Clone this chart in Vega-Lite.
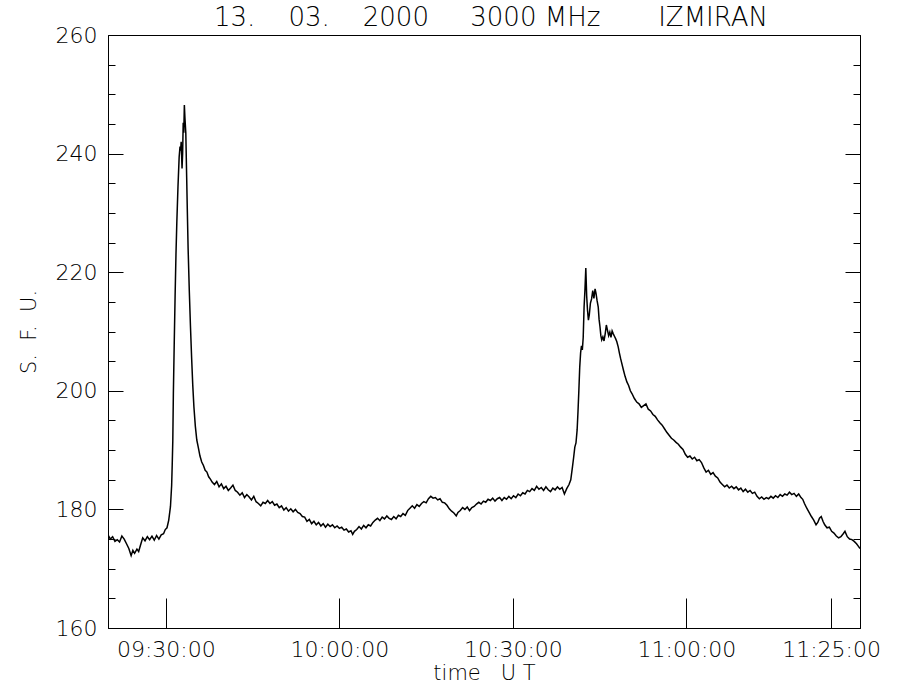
{
  "$schema": "https://vega.github.io/schema/vega-lite/v6.json",
  "width": 752,
  "height": 593,
  "autosize": "none",
  "padding": {"left": 108, "top": 35, "right": 40, "bottom": 72},
  "background": "white",
  "config": {
    "view": {"stroke": "black", "strokeWidth": 1},
    "font": "DejaVu Sans",
    "axis": {"domainColor": "black", "tickColor": "black", "labelColor": "black", "titleColor": "black", "grid": false, "labelFont": "DejaVu Sans", "titleFont": "DejaVu Sans", "labelFontWeight": 200, "titleFontWeight": 200}
  },
  "title": {"text": "13.\u00a0\u00a0\u00a0\u00a003.\u00a0\u00a0\u00a0\u00a02000\u00a0\u00a0\u00a0\u00a0\u00a03000\u00a0MHz\u00a0\u00a0\u00a0\u00a0\u00a0\u00a0\u00a0IZMIRAN", "fontSize": 26, "fontWeight": 200, "font": "DejaVu Sans", "color": "black", "offset": 9, "dy": 16, "dx": 7},
  "datasets": {
    "flux": [
      {"t":0,"v":175.7},{"t":0.4,"v":175.0},{"t":0.8,"v":175.4},{"t":1.2,"v":174.6},{"t":1.6,"v":174.9},{"t":2.0,"v":174.5},{"t":2.4,"v":175.5},{"t":2.8,"v":175.0},{"t":3.2,"v":174.2},{"t":3.6,"v":173.4},{"t":4.0,"v":172.2},{"t":4.3,"v":173.1},{"t":4.6,"v":172.6},{"t":5.0,"v":173.3},{"t":5.3,"v":172.9},{"t":5.6,"v":173.9},{"t":6.0,"v":175.2},{"t":6.4,"v":174.7},{"t":6.8,"v":175.4},{"t":7.2,"v":174.9},{"t":7.6,"v":175.5},{"t":8.0,"v":174.8},{"t":8.4,"v":175.6},{"t":8.8,"v":175.0},{"t":9.2,"v":175.7},{"t":9.6,"v":175.9},{"t":9.9,"v":176.6},{"t":10.2,"v":176.9},{"t":10.5,"v":178.2},{"t":10.8,"v":180.5},{"t":11.0,"v":184.0},{"t":11.1,"v":187.5},{"t":11.2,"v":191.5},{"t":11.3,"v":199.5},{"t":11.45,"v":208},{"t":11.6,"v":216},{"t":11.75,"v":223},{"t":11.9,"v":228.5},{"t":12.1,"v":234.5},{"t":12.3,"v":239.4},{"t":12.45,"v":241.2},{"t":12.55,"v":240.5},{"t":12.65,"v":242.0},{"t":12.8,"v":237.5},{"t":12.9,"v":240},{"t":13.0,"v":245.2},{"t":13.1,"v":243.5},{"t":13.2,"v":248.2},{"t":13.3,"v":246},{"t":13.45,"v":243.5},{"t":13.6,"v":236},{"t":13.7,"v":231},{"t":13.85,"v":224},{"t":14.05,"v":217},{"t":14.25,"v":211},{"t":14.45,"v":205.7},{"t":14.65,"v":201},{"t":14.85,"v":197.3},{"t":15.1,"v":194.0},{"t":15.35,"v":191.7},{"t":15.6,"v":190.5},{"t":15.9,"v":189.0},{"t":16.2,"v":188.0},{"t":16.5,"v":187.4},{"t":16.8,"v":186.6},{"t":17.1,"v":186.3},{"t":17.4,"v":185.5},{"t":17.7,"v":185.1},{"t":18.0,"v":184.6},{"t":18.4,"v":184.2},{"t":18.8,"v":184.7},{"t":19.2,"v":183.8},{"t":19.6,"v":184.3},{"t":20.0,"v":183.5},{"t":20.4,"v":183.9},{"t":20.8,"v":183.2},{"t":21.2,"v":183.6},{"t":21.6,"v":184.1},{"t":22.0,"v":183.2},{"t":22.4,"v":182.9},{"t":22.8,"v":182.4},{"t":23.2,"v":182.8},{"t":23.6,"v":182.0},{"t":24.0,"v":182.5},{"t":24.4,"v":182.1},{"t":24.8,"v":181.6},{"t":25.2,"v":182.2},{"t":25.6,"v":181.3},{"t":26.0,"v":181.0},{"t":26.4,"v":180.6},{"t":26.8,"v":181.2},{"t":27.2,"v":181.0},{"t":27.6,"v":181.5},{"t":28.0,"v":181.0},{"t":28.4,"v":181.3},{"t":28.8,"v":180.7},{"t":29.2,"v":180.9},{"t":29.6,"v":180.3},{"t":30.0,"v":180.6},{"t":30.4,"v":179.9},{"t":30.8,"v":180.3},{"t":31.2,"v":179.7},{"t":31.6,"v":180.1},{"t":32.0,"v":179.6},{"t":32.4,"v":180.0},{"t":32.8,"v":179.5},{"t":33.2,"v":179.3},{"t":33.6,"v":178.8},{"t":34.0,"v":178.7},{"t":34.4,"v":178.0},{"t":34.8,"v":178.3},{"t":35.2,"v":177.6},{"t":35.6,"v":178.0},{"t":36.0,"v":177.4},{"t":36.4,"v":177.8},{"t":36.8,"v":177.2},{"t":37.2,"v":177.6},{"t":37.6,"v":177.0},{"t":38.0,"v":177.5},{"t":38.4,"v":177.1},{"t":38.8,"v":177.4},{"t":39.2,"v":176.9},{"t":39.6,"v":177.2},{"t":40.0,"v":176.8},{"t":40.4,"v":177.0},{"t":40.8,"v":176.5},{"t":41.2,"v":176.7},{"t":41.6,"v":176.2},{"t":42.0,"v":176.4},{"t":42.3,"v":175.8},{"t":42.6,"v":176.3},{"t":43.0,"v":176.6},{"t":43.4,"v":177.1},{"t":43.8,"v":176.7},{"t":44.2,"v":177.3},{"t":44.6,"v":176.9},{"t":45.0,"v":177.4},{"t":45.4,"v":177.2},{"t":45.8,"v":177.8},{"t":46.2,"v":178.2},{"t":46.6,"v":178.5},{"t":47.0,"v":178.1},{"t":47.4,"v":178.7},{"t":47.8,"v":178.4},{"t":48.2,"v":178.9},{"t":48.6,"v":178.5},{"t":49.0,"v":178.3},{"t":49.4,"v":178.8},{"t":49.8,"v":178.4},{"t":50.2,"v":179.0},{"t":50.6,"v":178.8},{"t":51.0,"v":179.3},{"t":51.4,"v":179.0},{"t":51.8,"v":179.8},{"t":52.2,"v":180.2},{"t":52.6,"v":180.6},{"t":53.0,"v":180.2},{"t":53.4,"v":180.8},{"t":53.8,"v":180.5},{"t":54.2,"v":181.0},{"t":54.6,"v":181.3},{"t":55.0,"v":181.1},{"t":55.4,"v":181.8},{"t":55.8,"v":182.2},{"t":56.2,"v":181.9},{"t":56.6,"v":182.0},{"t":57.0,"v":181.6},{"t":57.4,"v":181.8},{"t":57.8,"v":181.2},{"t":58.2,"v":181.1},{"t":58.6,"v":180.7},{"t":59.0,"v":180.1},{"t":59.4,"v":179.7},{"t":59.8,"v":179.4},{"t":60.2,"v":178.9},{"t":60.5,"v":179.5},{"t":60.9,"v":179.8},{"t":61.3,"v":180.3},{"t":61.7,"v":180.0},{"t":62.1,"v":180.4},{"t":62.5,"v":179.8},{"t":62.9,"v":180.3},{"t":63.3,"v":180.5},{"t":63.7,"v":180.9},{"t":64.1,"v":181.2},{"t":64.5,"v":180.9},{"t":64.9,"v":181.4},{"t":65.3,"v":181.2},{"t":65.7,"v":181.7},{"t":66.1,"v":181.5},{"t":66.5,"v":181.9},{"t":66.9,"v":181.4},{"t":67.3,"v":181.8},{"t":67.7,"v":182.0},{"t":68.1,"v":181.5},{"t":68.5,"v":182.0},{"t":68.9,"v":181.7},{"t":69.3,"v":182.2},{"t":69.7,"v":181.8},{"t":70.1,"v":182.3},{"t":70.5,"v":182.0},{"t":70.9,"v":182.6},{"t":71.3,"v":182.3},{"t":71.7,"v":182.8},{"t":72.1,"v":182.6},{"t":72.5,"v":183.2},{"t":72.9,"v":183.0},{"t":73.3,"v":183.5},{"t":73.7,"v":183.2},{"t":74.1,"v":183.9},{"t":74.5,"v":183.4},{"t":74.9,"v":183.7},{"t":75.3,"v":183.2},{"t":75.7,"v":183.8},{"t":76.1,"v":183.3},{"t":76.5,"v":183.0},{"t":76.9,"v":183.6},{"t":77.3,"v":183.3},{"t":77.7,"v":183.8},{"t":78.1,"v":183.4},{"t":78.5,"v":183.7},{"t":78.9,"v":182.6},{"t":79.3,"v":183.5},{"t":79.7,"v":184.2},{"t":80.0,"v":185.0},{"t":80.3,"v":187.2},{"t":80.5,"v":188.8},{"t":80.7,"v":190.5},{"t":80.9,"v":191.2},{"t":81.1,"v":193.4},{"t":81.25,"v":196.5},{"t":81.4,"v":200.1},{"t":81.55,"v":204},{"t":81.7,"v":206.4},{"t":81.85,"v":207.6},{"t":82.0,"v":206.9},{"t":82.15,"v":209},{"t":82.3,"v":214.1},{"t":82.45,"v":217},{"t":82.6,"v":220.7},{"t":82.75,"v":216},{"t":82.9,"v":213.5},{"t":83.05,"v":211.9},{"t":83.2,"v":212.8},{"t":83.4,"v":214.8},{"t":83.6,"v":215.5},{"t":83.8,"v":216.9},{"t":84.0,"v":215.6},{"t":84.2,"v":217.2},{"t":84.35,"v":216.5},{"t":84.55,"v":215.2},{"t":84.75,"v":214.1},{"t":84.9,"v":212.0},{"t":85.05,"v":210.8},{"t":85.2,"v":209.3},{"t":85.35,"v":208.6},{"t":85.55,"v":209.1},{"t":85.75,"v":208.4},{"t":85.95,"v":209.6},{"t":86.15,"v":211.1},{"t":86.35,"v":210.2},{"t":86.55,"v":209.3},{"t":86.75,"v":209.9},{"t":86.95,"v":209.0},{"t":87.15,"v":210.1},{"t":87.35,"v":209.6},{"t":87.55,"v":209.2},{"t":87.75,"v":208.8},{"t":87.95,"v":208.3},{"t":88.2,"v":207.4},{"t":88.4,"v":206.4},{"t":88.6,"v":205.5},{"t":88.8,"v":204.7},{"t":89.1,"v":203.5},{"t":89.4,"v":202.4},{"t":89.7,"v":201.5},{"t":90.0,"v":200.9},{"t":90.3,"v":200.0},{"t":90.6,"v":199.5},{"t":91.0,"v":198.7},{"t":91.4,"v":198.1},{"t":91.8,"v":197.8},{"t":92.2,"v":197.2},{"t":92.6,"v":197.5},{"t":93.0,"v":197.8},{"t":93.4,"v":196.9},{"t":93.8,"v":196.6},{"t":94.2,"v":196.0},{"t":94.6,"v":195.7},{"t":95.0,"v":195.1},{"t":95.4,"v":194.6},{"t":95.8,"v":194.2},{"t":96.2,"v":193.6},{"t":96.6,"v":193.0},{"t":97.0,"v":192.5},{"t":97.4,"v":192.0},{"t":97.8,"v":191.7},{"t":98.2,"v":191.3},{"t":98.6,"v":191.0},{"t":99.0,"v":190.5},{"t":99.4,"v":190.1},{"t":99.8,"v":189.3},{"t":100.2,"v":188.8},{"t":100.6,"v":189.0},{"t":101.0,"v":188.5},{"t":101.4,"v":188.8},{"t":101.8,"v":188.2},{"t":102.2,"v":188.4},{"t":102.6,"v":187.9},{"t":103.0,"v":187.0},{"t":103.4,"v":186.3},{"t":103.8,"v":186.6},{"t":104.2,"v":185.9},{"t":104.6,"v":186.2},{"t":105.0,"v":185.6},{"t":105.4,"v":185.3},{"t":105.8,"v":184.6},{"t":106.2,"v":184.2},{"t":106.6,"v":183.8},{"t":107.0,"v":184.1},{"t":107.4,"v":183.6},{"t":107.8,"v":183.9},{"t":108.2,"v":183.5},{"t":108.6,"v":183.8},{"t":109.0,"v":183.3},{"t":109.4,"v":183.6},{"t":109.8,"v":183.0},{"t":110.2,"v":183.4},{"t":110.6,"v":182.9},{"t":111.0,"v":183.2},{"t":111.4,"v":182.7},{"t":111.8,"v":182.9},{"t":112.2,"v":182.2},{"t":112.6,"v":181.8},{"t":113.0,"v":182.1},{"t":113.4,"v":181.7},{"t":113.8,"v":182.0},{"t":114.2,"v":181.8},{"t":114.6,"v":182.2},{"t":115.0,"v":181.9},{"t":115.4,"v":182.3},{"t":115.8,"v":182.0},{"t":116.2,"v":182.5},{"t":116.6,"v":182.2},{"t":117.0,"v":182.6},{"t":117.4,"v":182.4},{"t":117.8,"v":182.9},{"t":118.2,"v":182.5},{"t":118.6,"v":182.7},{"t":119.0,"v":182.2},{"t":119.4,"v":182.6},{"t":119.8,"v":182.0},{"t":120.1,"v":181.7},{"t":120.4,"v":181.0},{"t":120.8,"v":180.2},{"t":121.2,"v":179.5},{"t":121.6,"v":178.8},{"t":122.0,"v":178.2},{"t":122.4,"v":177.4},{"t":122.7,"v":177.8},{"t":123.0,"v":178.5},{"t":123.3,"v":178.8},{"t":123.6,"v":178.0},{"t":123.9,"v":177.4},{"t":124.3,"v":176.9},{"t":124.7,"v":177.0},{"t":125.1,"v":176.3},{"t":125.5,"v":176.0},{"t":125.9,"v":175.5},{"t":126.3,"v":175.2},{"t":126.7,"v":175.4},{"t":127.1,"v":175.9},{"t":127.4,"v":176.3},{"t":127.8,"v":175.4},{"t":128.2,"v":175.0},{"t":128.6,"v":174.9},{"t":129.0,"v":174.6},{"t":129.4,"v":174.2},{"t":129.7,"v":173.8},{"t":130.0,"v":173.4}
    ]
  },
  "data": {"name": "flux"},
  "layer": [
    {
      "mark": {"type": "line", "color": "black", "strokeWidth": 1.5, "clip": true},
      "encoding": {
        "x": {
          "field": "t", "type": "quantitative",
          "scale": {"domain": [0, 130], "nice": false, "zero": false},
          "axis": {
            "orient": "bottom",
            "values": [10, 40, 70, 100, 125],
            "labelExpr": "datum.value == 10 ? '09:30:00' : datum.value == 40 ? '10:00:00' : datum.value == 70 ? '10:30:00' : datum.value == 100 ? '11:00:00' : '11:25:00'",
            "tickSize": -30, "tickWidth": 1, "labelPadding": 41,
            "labelFontSize": 22, "labelFlush": false,
            "title": "time\u00a0\u00a0\u00a0U\u00a0T", "titleFontSize": 21, "titlePadding": 2
          }
        },
        "y": {
          "field": "v", "type": "quantitative",
          "scale": {"domain": [160, 260], "nice": false, "zero": false},
          "axis": {
            "orient": "left",
            "values": [160,165,170,175,180,185,190,195,200,205,210,215,220,225,230,235,240,245,250,255,260],
            "labelExpr": "datum.value % 20 == 0 ? datum.label : ''",
            "tickSize": {"condition": {"test": "datum.value % 20 == 0", "value": -15}, "value": -7},
            "tickWidth": 1, "labelPadding": 26, "labelFontSize": 22,
            "labelFlush": false, "labelOverlap": false,
            "title": "S.\u00a0\u00a0F.\u00a0\u00a0U.", "titleFontSize": 21, "titlePadding": 16
          }
        }
      }
    },
    {
      "mark": {"type": "line", "color": "black", "strokeOpacity": 0},
      "encoding": {
        "x": {"field": "t", "type": "quantitative", "scale": {"domain": [0, 130], "nice": false, "zero": false}},
        "y": {
          "field": "v", "type": "quantitative",
          "scale": {"domain": [160, 260], "nice": false, "zero": false},
          "axis": {
            "orient": "right",
            "values": [160,165,170,175,180,185,190,195,200,205,210,215,220,225,230,235,240,245,250,255,260],
            "labels": false,
            "tickSize": {"condition": {"test": "datum.value % 20 == 0", "value": -15}, "value": -7},
            "tickWidth": 1, "title": null
          }
        }
      }
    }
  ],
  "resolve": {"axis": {"y": "independent"}}
}
